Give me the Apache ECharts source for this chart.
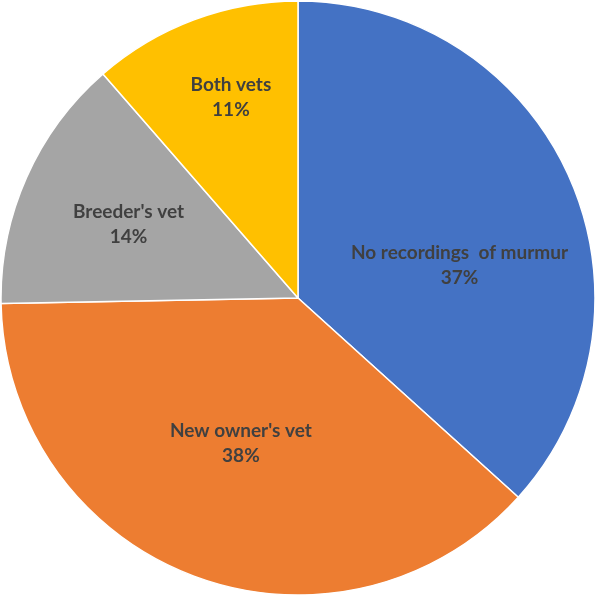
<!DOCTYPE html>
<html>
<head>
<meta charset="utf-8">
<script src="https://cdn.jsdelivr.net/npm/echarts@6/dist/echarts.min.js"></script>
<style>
html,body{margin:0;padding:0;background:#fff;}
#chart{width:597px;height:598px;}
</style>
</head>
<body>
<div id="chart"></div>
<script>
var categories = ["No recordings  of murmur", "New owner's vet", "Breeder's vet", "Both vets"];
var values = [36.7, 38.0, 13.9, 11.4];
var colors = ["#4472C4", "#ED7D31", "#A5A5A5", "#FFC000"];
var labelOffsets = [[23, 29], [-4, 3], [-31, -12], [-14, -59]];

var chart = echarts.init(document.getElementById('chart'), null, {renderer: 'canvas'});
var data = categories.map(function (c, i) {
  return {
    name: c,
    value: values[i],
    itemStyle: {color: colors[i]},
    label: {offset: labelOffsets[i]}
  };
});
chart.setOption({
  animation: false,
  series: [{
    type: 'pie',
    center: [298, 298],
    radius: [0, 297],
    startAngle: 90,
    clockwise: true,
    avoidLabelOverlap: false,
    itemStyle: {borderColor: '#ffffff', borderWidth: 1.5},
    label: {
      show: true,
      position: 'inside',
      color: '#404040',
      fontFamily: 'Lato, "Open Sans", sans-serif',
      fontWeight: 'bold',
      fontSize: 19,
      lineHeight: 25,
      align: 'center',
      formatter: function (p) { return p.name + '\n' + Math.round(p.percent) + '%'; }
    },
    labelLine: {show: false},
    emphasis: {disabled: true},
    data: data
  }]
});
</script>
</body>
</html>
